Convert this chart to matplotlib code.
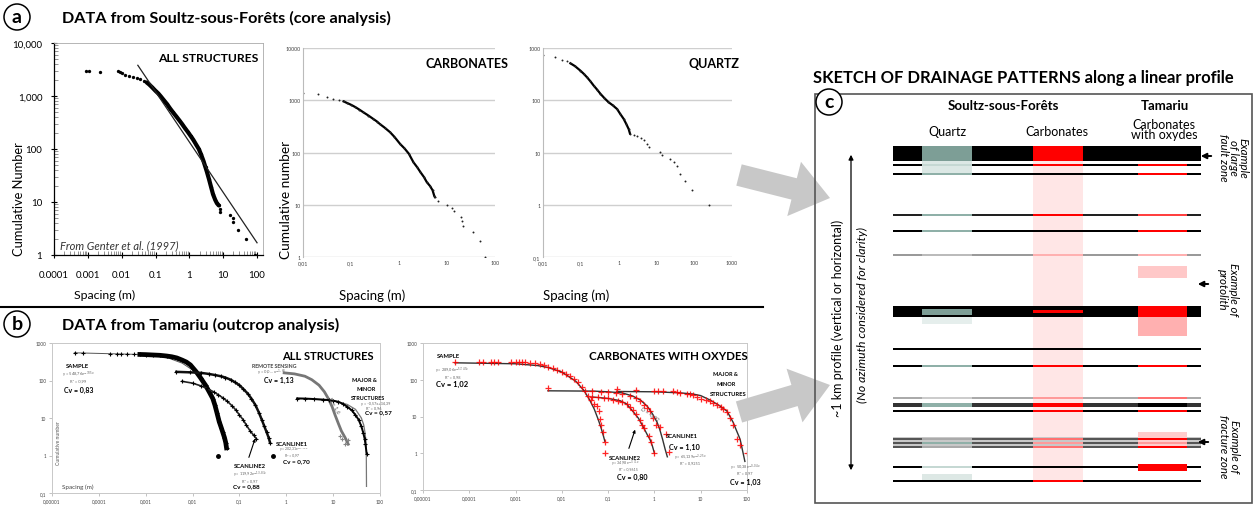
import matplotlib
matplotlib.use('Agg')
import matplotlib.pyplot as plt
from matplotlib.patches import Circle, Rectangle, Polygon
import numpy as np

plt.rcParams['font.family'] = ['Lato', 'DejaVu Sans']

# ---------------- DATA : panel a (Soultz-sous-Forets) ----------------
a1_x = [0.0009, 0.0011, 0.0023, 0.008, 0.009, 0.0105, 0.0126, 0.016, 0.022, 0.028, 0.035, 0.045,
        0.055, 0.065, 0.08, 0.1, 0.12, 0.14, 0.18, 0.22, 0.27, 0.33, 0.4, 0.5, 0.6, 0.75, 0.9,
        1.1, 1.3, 1.6, 1.9, 2.2, 2.6, 3.0, 3.3, 3.8, 4.4, 5.0, 5.8, 6.5, 7.4,
        8.0, 8.3, 16, 19, 19.5, 27, 48, 90]
a1_y = [3000, 2900, 2800, 2900, 2800, 2700, 2500, 2400, 2300, 2200, 2100, 1950,
        1800, 1650, 1450, 1250, 1120, 1000, 820, 700, 580, 490, 420, 350, 300, 245, 210,
        175, 150, 120, 100, 80, 60, 45, 37, 27, 19, 14, 11, 9.5, 8.6,
        7.5, 6.5, 5.8, 4.9, 4.2, 3.0, 2.0, 1.0]
a1_fit_x = [0.03, 100]
a1_fit_y = [3800, 1.7]
a1_xticklabels = ['0.0001', '0.001', '0.01', '0.1', '1', '10', '100']
a1_yticklabels = ['1', '10', '100', '1,000', '10,000']

a2_x = [0.01, 0.021, 0.032, 0.043, 0.055, 0.07, 0.082, 0.1, 0.123, 0.15, 0.18, 0.23, 0.29, 0.35,
        0.4, 0.5, 0.65, 0.8, 1.06, 1.3, 1.6, 2.0, 2.4, 2.8, 3.3, 3.8, 4.4, 5.0, 5.4, 5.6, 6.6,
        10, 12.5, 13.7, 20, 21, 21.6, 35, 49, 62]
a2_y = [1360, 1290, 1150, 1060, 1020, 950, 890, 820, 740, 660, 590, 510, 440, 390,
        350, 300, 245, 200, 145, 120, 95, 65, 52, 42, 34, 27, 23, 19, 15, 14, 12,
        10, 8.7, 7.5, 5.8, 4.9, 4.0, 3.0, 2.0, 1.0]
a2_xticklabels = ['0,01', '0,1', '1', '10', '100']
a2_yticklabels = ['1', '10', '100', '1000', '10000']

a3_x = [0.01, 0.021, 0.032, 0.042, 0.053, 0.07, 0.097, 0.12, 0.146, 0.18, 0.22, 0.27, 0.33, 0.42,
        0.54, 0.7, 0.91, 1.1, 1.36, 1.6, 1.85, 2.0, 2.6, 3.1, 3.8, 4.6, 5.6, 6.2, 12.6, 13.9,
        23, 28.5, 35, 43, 58, 87, 245]
a3_y = [735, 660, 600, 560, 510, 450, 370, 320, 275, 230, 190, 160, 133, 110,
        92, 80, 68, 55, 44, 35, 28, 23, 22, 21, 19, 17.5, 14.6, 12.7, 10.2, 9.1,
        7.6, 6.5, 5.5, 3.9, 2.9, 1.9, 0.97]
a3_xticklabels = ['0,01', '0,1', '1', '10', '100', '1000']
a3_yticklabels = ['0,1', '1', '10', '100', '1000']

# ---------------- DATA : panel b (Tamariu) ----------------
b_xticklabels = ['0,00001', '0,0001', '0,001', '0,01', '0,1', '1', '10', '100']
b_yticklabels = ['0,1', '1', '10', '100', '1000']

# all structures
b1_sample_x = [3.1e-5, 4.6e-5, 1.7e-4, 2.4e-4, 2.9e-4, 4e-4, 5.5e-4, 7.5e-4, 1e-3, 1.4e-3, 2e-3,
               2.8e-3, 3.6e-3, 4.6e-3, 6e-3, 7.4e-3, 9e-3, 0.012, 0.015, 0.019, 0.023, 0.027,
               0.03, 0.033, 0.037, 0.041, 0.044, 0.048, 0.051, 0.053]
b1_sample_y = [540, 540, 520, 515, 510, 505, 500, 495, 490, 480, 470, 450, 430, 400, 350, 310,
               260, 170, 115, 74, 48, 33, 22, 14, 8, 5.5, 4.2, 3.0, 2.2, 1.6]
b1_sample_last = (0.035, 1.0)
b1_sample_fit_x = [3e-5, 1e-3, 3e-3, 6e-3, 1e-2, 1.5e-2, 2e-2, 2.5e-2, 3e-2, 4e-2, 5e-2, 5.5e-2]
b1_sample_fit_y = [548, 490, 400, 290, 190, 110, 67, 40, 23, 8, 3, 1.7]

b1_scan1_x = [0.0045, 0.009, 0.015, 0.022, 0.03, 0.04, 0.05, 0.065, 0.08, 0.1, 0.12, 0.15, 0.18,
              0.22, 0.26, 0.3, 0.34, 0.38, 0.42, 0.45]
b1_scan1_y = [170, 165, 160, 150, 140, 130, 120, 105, 90, 75, 60, 45, 33, 22, 14, 9, 6, 4.2, 3, 2.2]
b1_scan1_last = (0.51, 1.0)

b1_scan2_x = [0.006, 0.01, 0.015, 0.02, 0.028, 0.035, 0.045, 0.055, 0.07, 0.085, 0.1, 0.12, 0.14,
              0.17, 0.2, 0.23]
b1_scan2_y = [95, 85, 72, 62, 50, 42, 34, 28, 21, 16, 12, 9, 6.5, 4.5, 3.5, 2.8]

b1_remote_x = [0.9, 1.5, 2.5, 3.5, 5, 6.5, 8, 9.5, 11, 13, 15, 18, 21]
b1_remote_y = [160, 150, 130, 105, 75, 50, 32, 20, 12, 7, 4.5, 3.0, 2.0]
b1_remote_pts_x = [13.8, 15.6, 17.7, 21]
b1_remote_pts_y = [3.3, 2.8, 2.0, 2.6]

b1_major_x = [1.7, 2.5, 4, 6, 8, 10, 13, 16, 20, 25, 30, 35, 40, 44, 47, 49, 52]
b1_major_y = [33, 33, 32, 31, 30, 29, 27, 24, 20, 16, 12, 9, 6, 4, 2.8, 2.0, 1.1]
b1_major_fit_x = [1.7, 10, 20, 30, 40, 45, 48, 50, 51, 51.5]
b1_major_fit_y = [34, 29, 23, 17, 10, 6.5, 4, 2.5, 1.2, 0.15]

# carbonates with oxydes
b2_sample_x = [4.9e-5, 1.6e-4, 2.0e-4, 3.0e-4, 3.4e-4, 4.2e-4, 8e-4, 1.0e-3, 1.2e-3, 1.4e-3, 1.6e-3,
               2e-3, 2.6e-3, 3.3e-3, 4.2e-3, 5e-3, 6.5e-3, 8e-3, 1e-2, 1.2e-2, 1.5e-2, 1.8e-2,
               2.2e-2, 2.7e-2, 3.2e-2, 3.7e-2, 4.3e-2, 5e-2, 5.7e-2, 6.2e-2, 6.6e-2, 7.1e-2,
               7.7e-2, 8.5e-2, 8.5e-2]
b2_sample_y = [304, 300, 300, 300, 300, 298, 300, 300, 298, 296, 295, 290, 280, 265, 245, 222,
               205, 185, 162, 145, 125, 105, 87, 65, 50, 36, 28, 22, 19, 14, 8.6, 6, 3.8, 2.0, 1.0]
b2_sample_fit_x = [4.9e-5, 1e-3, 3e-3, 5e-3, 0.01, 0.02, 0.03, 0.04, 0.05, 0.06, 0.07, 0.08, 0.085]
b2_sample_fit_y = [289, 272, 243, 216, 162, 91, 51, 28, 16, 8.8, 5, 2.8, 2.1]

b2_scan1_x = [0.005, 0.045, 0.07, 0.1, 0.15, 0.2, 0.3, 0.4, 0.5, 0.6, 0.7, 0.8, 0.94, 1.1, 1.3,
              1.8, 2.1]
b2_scan1_y = [60, 48, 47, 46, 44, 42, 37, 32, 26, 21, 17, 14, 9, 6, 5.2, 3.4, 1.1]
b2_scan1_fit_x = [0.005, 0.05, 0.1, 0.2, 0.34, 0.5, 0.7, 0.9, 1.14, 1.3, 1.5, 1.7, 1.9]
b2_scan1_fit_y = [50, 49, 47, 44, 36, 28, 19, 12, 7, 4.5, 2.4, 1.3, 0.8]

b2_scan2_x = [0.045, 0.06, 0.08, 0.1, 0.13, 0.16, 0.2, 0.25, 0.3, 0.35, 0.4, 0.5, 0.55, 0.6,
              0.75, 0.85, 1.0]
b2_scan2_y = [34, 33, 32, 31, 29, 27, 25, 22, 18, 15, 12, 8, 6, 5, 3, 2, 1]
b2_scan2_fit_x = [0.045, 0.1, 0.18, 0.25, 0.34, 0.45, 0.56, 0.7, 0.8, 0.9, 1.0]
b2_scan2_fit_y = [34, 31, 27, 22, 14, 9, 5.5, 3.2, 2.4, 1.6, 1.0]

b2_major_x = [0.155, 0.4, 1.0, 1.2, 1.5, 2.5, 3.0, 3.6, 5, 6, 6.7, 8.4, 10, 13, 16, 18, 22, 27,
              30, 37, 44, 50, 60, 71, 100]
b2_major_y = [56, 52, 50, 50, 49, 48, 46, 44, 42, 40, 38, 33, 30, 28, 26, 23, 21, 18, 16, 13, 9,
              6, 2.5, 1.7, 1.0]
b2_major_fit_x = [0.155, 1, 3.6, 6.7, 10, 16, 25, 37, 50, 60, 71, 80, 90]
b2_major_fit_y = [48, 47, 44, 41, 37, 28, 20, 14, 7, 4, 2.4, 1.2, 0.6]

# ---------------- DATA : panel c (sketch rows along the profile) ----------------
sk_row_pos = [154.5, 166, 175, 216, 232, 256, 312.5, 350, 367, 399, 405.5, 412, 440, 444, 448, 468, 482]
sk_row_thk = [15, 2.5, 2.5, 2, 2.5, 1.5, 11, 2.5, 2, 2, 4, 2, 1.2, 1.2, 1.2, 1.5, 2.5]
sk_base = ['k', 'k', 'k', '#222222', 'k', '#9a9a9a', 'k', 'k', 'k', '#aaaaaa', '#333333', 'k',
           '#555555', '#555555', '#555555', 'k', 'k']
sk_quartz = ['#7d9e96', '#c5d8d3', '#8fb0a8', '#8fb0a8', '#8fb0a8', '#bbbbbb', 'k', 'k', '#8fb0a8',
             '#cccccc', '#8fb0a8', 'k', '#aaaaaa', '#8fb0a8', '#aaaaaa', '#c5d8d3', 'k']
sk_carb = ['red', 'red', 'k', 'red', 'k', '#ffb0b0', 'k', 'k', 'red', '#ff9a9a', 'red', 'red',
           '#ff7070', '#ff9a9a', '#ff7070', 'k', 'red']
sk_tam = ['k', 'red', 'red', '#ff4040', 'red', '#ffb0b0', 'red', 'k', 'red', '#ff7070', 'k', 'red',
          'red', '#ff9a9a', 'red', 'red', 'k']

W, H = 1253, 506
fig = plt.figure(figsize=(W / 100, H / 100), dpi=100)


def add_ax(x0, y0, x1, y1, **kw):
    return fig.add_axes([x0 / W, 1 - y1 / H, (x1 - x0) / W, (y1 - y0) / H], **kw)


def decades(lo, n):
    return [10.0 ** (lo + i) for i in range(n)]


# ================= a1 =================
ax1 = add_ax(54, 44, 263, 256)
ax1.set_xscale('log'); ax1.set_yscale('log')
ax1.set_xlim(1e-4, 150); ax1.set_ylim(1, 1e4)
xa = np.array(a1_x); ya = np.array(a1_y)
m = (xa >= 0.05) & (xa <= 7.5)
ax1.plot(xa[m], ya[m], '-', color='k', lw=3.0, solid_capstyle='round')
ax1.plot(xa, ya, 'o', color='k', ms=2.4, mec='none')
ax1.plot(a1_fit_x, a1_fit_y, '-', color='#222222', lw=0.9)
ax1.set_xticks(decades(-4, 7)); ax1.set_xticklabels(a1_xticklabels)
ax1.set_yticks(decades(0, 5)); ax1.set_yticklabels(a1_yticklabels)
ax1.tick_params(which='major', direction='inout', length=5, labelsize=7, width=0.8)
ax1.tick_params(axis='x', which='major', pad=8)
ax1.tick_params(axis='y', which='major', pad=6)
ax1.tick_params(which='minor', direction='in', length=3, width=0.5, colors='#666666')
for s in ['top', 'right']:
    ax1.spines[s].set_color('#aaaaaa'); ax1.spines[s].set_linewidth(0.6)
for s in ['left', 'bottom']:
    ax1.spines[s].set_linewidth(0.9)
ax1.text(0.98, 0.93, 'ALL STRUCTURES', transform=ax1.transAxes, ha='right', va='center',
         fontsize=8.7, fontweight='bold')
ax1.text(0.03, 0.05, 'From Genter et al. (1997)', transform=ax1.transAxes, ha='left',
         va='center', fontsize=8, style='italic', color='#333333')


# ================= a2 / a3 =================
def grid_axes(ax, xlim, ylim, xt, xl, yt, yl):
    ax.set_xscale('log'); ax.set_yscale('log')
    ax.set_xlim(*xlim); ax.set_ylim(*ylim)
    ax.set_xticks(xt); ax.set_xticklabels(xl)
    ax.set_yticks(yt); ax.set_yticklabels(yl)
    ax.minorticks_off()
    ax.tick_params(length=0, labelsize=3.8, labelcolor='#444444', pad=2)
    ax.yaxis.grid(True, color='#cfcfcf', lw=1.0)
    ax.set_axisbelow(True)
    for s in ['top', 'right', 'bottom']:
        ax.spines[s].set_visible(False)
    ax.spines['left'].set_color('#bbbbbb'); ax.spines['left'].set_linewidth(0.8)


ax2 = add_ax(303, 49, 495, 258)
grid_axes(ax2, (0.01, 100), (1, 1e4), decades(-2, 5), a2_xticklabels, decades(0, 5), a2_yticklabels)
x2 = np.array(a2_x); y2 = np.array(a2_y)
m2 = (x2 >= 0.07) & (x2 <= 5.6)
ax2.plot(x2[m2], y2[m2], '-', color='k', lw=1.6)
ax2.plot(x2, y2, 'o', color='#222222', ms=1.4, mec='none')
ax2.text(1.07, 0.93, 'CARBONATES', transform=ax2.transAxes, ha='right', va='center',
         fontsize=9, fontweight='bold')

ax3 = add_ax(543, 49, 732, 258)
grid_axes(ax3, (0.01, 1000), (0.1, 1000), decades(-2, 6), a3_xticklabels, decades(-1, 5), a3_yticklabels)
x3 = np.array(a3_x); y3 = np.array(a3_y)
m3 = (x3 >= 0.05) & (x3 <= 2.0)
ax3.plot(x3[m3], y3[m3], '-', color='k', lw=1.6)
ax3.plot(x3, y3, 'o', color='#222222', ms=1.4, mec='none')
ax3.text(1.04, 0.93, 'QUARTZ', transform=ax3.transAxes, ha='right', va='center',
         fontsize=9, fontweight='bold')


# ================= b1 / b2 =================
def b_axes(ax):
    ax.set_xscale('log'); ax.set_yscale('log')
    ax.set_xlim(1e-5, 100); ax.set_ylim(0.1, 1000)
    ax.set_xticks(decades(-5, 8)); ax.set_xticklabels(b_xticklabels)
    ax.set_yticks(decades(-1, 5)); ax.set_yticklabels(b_yticklabels)
    ax.minorticks_off()
    ax.tick_params(length=2, width=0.5, color='#aaaaaa', labelsize=3.3, labelcolor='#444444', pad=2)
    for s in ax.spines.values():
        s.set_color('#c8c8c8'); s.set_linewidth(0.7)


bx1 = add_ax(52, 344, 380, 494)
b_axes(bx1)
bx1.plot(b1_sample_fit_x, b1_sample_fit_y, '-', color='#555555', lw=0.7)
xs = np.array(b1_sample_x); ys = np.array(b1_sample_y)
ms_ = xs >= 7.5e-4
bx1.plot(xs[ms_], ys[ms_], '-', color='k', lw=3.4)
bx1.plot(xs, ys, '+', color='k', ms=3.5, mew=0.8)
bx1.plot(*b1_sample_last, 'o', color='k', ms=2.5)
bx1.plot(b1_scan1_x, b1_scan1_y, '-', color='#111111', lw=1.8)
bx1.plot(b1_scan1_x, b1_scan1_y, '+', color='k', ms=3.5, mew=0.8)
bx1.plot(*b1_scan1_last, 'o', color='k', ms=2.5)
bx1.plot(b1_scan2_x, b1_scan2_y, '-', color='#222222', lw=1.2)
bx1.plot(b1_scan2_x, b1_scan2_y, '+', color='k', ms=3.5, mew=0.8)
bx1.plot(b1_remote_x, b1_remote_y, '-', color='#777777', lw=2.0)
bx1.plot(b1_remote_pts_x, b1_remote_pts_y, '+', color='#888888', ms=3.5, mew=0.8)
bx1.plot(b1_major_fit_x, b1_major_fit_y, '-', color='#777777', lw=0.9)
bx1.plot(b1_major_x, b1_major_y, '-', color='k', lw=1.4)
bx1.plot(b1_major_x, b1_major_y, '+', color='k', ms=3.5, mew=0.8)

bx2 = add_ax(423, 344, 747, 491)
b_axes(bx2)
for fx, fy in [(b2_sample_fit_x, b2_sample_fit_y), (b2_scan1_fit_x, b2_scan1_fit_y),
               (b2_scan2_fit_x, b2_scan2_fit_y), (b2_major_fit_x, b2_major_fit_y)]:
    bx2.plot(fx, fy, '-', color='#333333', lw=1.0)
for px, py in [(b2_sample_x, b2_sample_y), (b2_scan1_x, b2_scan1_y),
               (b2_scan2_x, b2_scan2_y), (b2_major_x, b2_major_y)]:
    bx2.plot(px, py, '+', color='red', ms=4, mew=0.9, alpha=0.85)

# ================= overlay (pixel coordinates) =================
ov = add_ax(0, 0, W, H)
ov.set_xlim(0, W); ov.set_ylim(H, 0)
ov.axis('off')
ov.patch.set_visible(False)


def T(x, y, s, **kw):
    kw.setdefault('va', 'center')
    ov.text(x, y, s, **kw)


def circ_label(x, y, s):
    ov.add_patch(Circle((x, y), 13, facecolor='white', edgecolor='k', lw=1.1, zorder=6))
    T(x, y - 1, s, ha='center', fontsize=14, fontweight='bold', zorder=7)


# panel titles
circ_label(17, 18, 'a')
T(62, 18, 'DATA from Soultz-sous-Forêts (core analysis)', fontsize=11.7, fontweight='bold')
circ_label(17, 325, 'b')
T(62, 325, 'DATA from Tamariu (outcrop analysis)', fontsize=11.7, fontweight='bold')
ov.plot([0, 763], [308, 308], color='k', lw=1.5)

# axis labels of panel a
T(19, 199, 'Cumulative Number', rotation=90, ha='center', fontsize=9.3)
T(105, 295, 'Spacing (m)', ha='center', fontsize=8.8)
T(286, 200, 'Cumulative number', rotation=90, ha='center', fontsize=9.8)
T(372, 296, 'Spacing (m)', ha='center', fontsize=9.5)
T(576, 296, 'Spacing (m)', ha='center', fontsize=9.5)

# panel b1 annotations
T(328, 357, 'ALL STRUCTURES', ha='center', fontsize=8, fontweight='bold')
T(66, 367, 'SAMPLE', fontsize=4.2, fontweight='bold')
T(62, 375, 'y = 548,76e$^{-105x}$', fontsize=3, color='#666666')
T(70, 381, 'R² = 0,99', fontsize=3, color='#666666')
T(64, 390, 'Cv = 0,83', fontsize=5, fontweight='bold')
T(274, 366, 'REMOTE SENSING', ha='center', fontsize=3.8, fontweight='bold', color='#444444')
T(272, 373, 'y = 0,0... x$^{-1,60}$', ha='center', fontsize=3, color='#666666')
T(279, 380, 'Cv = 1,13', ha='center', fontsize=5, fontweight='bold')
T(334, 405, 'D = 1,6', ha='center', fontsize=4, color='#555555', rotation=-60)
T(364, 380, 'MAJOR &', ha='center', fontsize=4, fontweight='bold')
T(366, 390, 'MINOR', ha='center', fontsize=4, fontweight='bold')
T(368, 399, 'STRUCTURES', ha='center', fontsize=4, fontweight='bold')
T(376, 404, 'y = -0,57x+34,39', ha='center', fontsize=2.8, color='#666666')
T(374, 408, 'R² = 0,96', ha='center', fontsize=2.8, color='#666666')
T(378, 413, 'Cv = 0,57', ha='center', fontsize=4.6, fontweight='bold')
T(292, 445, 'SCANLINE1', ha='center', fontsize=4.2, fontweight='bold')
T(294, 450, 'y = 202,31e$^{-7,77x}$', ha='center', fontsize=2.5, color='#666666')
T(292, 455.8, 'R² = 0,97', ha='center', fontsize=2.5, color='#666666')
T(296, 461.5, 'Cv = 0,70', ha='center', fontsize=4.6, fontweight='bold')
T(250, 467, 'SCANLINE2', ha='center', fontsize=4.2, fontweight='bold')
T(250, 475, 'y = 119,92e$^{-13,83x}$', ha='center', fontsize=2.8, color='#666666')
T(250, 481, 'R² = 0,97', ha='center', fontsize=2.8, color='#666666')
T(246, 487, 'Cv = 0,88', ha='center', fontsize=4.6, fontweight='bold')
ov.annotate('', xy=(256, 437), xytext=(248, 461),
            arrowprops=dict(arrowstyle='-|>', color='k', lw=0.8, mutation_scale=4))
T(62, 487, 'Spacing (m)', fontsize=4.5, color='#444444')
T(59, 443, 'Cumulative number', rotation=90, ha='center', fontsize=3.6, color='#555555')

# panel b2 annotations
T(668, 356, 'CARBONATES WITH OXYDES', ha='center', fontsize=8.3, fontweight='bold')
T(437, 356, 'SAMPLE', fontsize=4.2, fontweight='bold')
T(435, 371, 'y = 289,06e$^{-57,49x}$', fontsize=2.8, color='#666666')
T(445, 377, 'R² = 0,98', fontsize=2.8, color='#666666')
T(436, 384, 'Cv = 1,02', fontsize=5.5, fontweight='bold')
T(725, 375, 'MAJOR &', ha='center', fontsize=4, fontweight='bold')
T(726, 385, 'MINOR', ha='center', fontsize=4, fontweight='bold')
T(728, 395, 'STRUCTURES', ha='center', fontsize=4.2, fontweight='bold')
T(650, 414, 'D = -0,92', ha='center', fontsize=3.6, color='#555555', rotation=-35)
T(682, 437, 'SCANLINE1', ha='center', fontsize=4.2, fontweight='bold')
T(684, 447, 'Cv = 1,10', ha='center', fontsize=5.2, fontweight='bold')
T(690, 458, 'y = 65,139e$^{-2,25x}$', ha='center', fontsize=2.8, color='#666666')
T(690, 463, 'R² = 0,9251', ha='center', fontsize=2.8, color='#666666')
T(625, 458.5, 'SCANLINE2', ha='center', fontsize=4.2, fontweight='bold')
T(625, 464, 'y = 34,98e$^{-3,71x}$', ha='center', fontsize=2.6, color='#666666')
T(628, 469.8, 'R² = 0,9615', ha='center', fontsize=2.6, color='#666666')
T(632, 477.5, 'Cv = 0,80', ha='center', fontsize=5.2, fontweight='bold')
ov.annotate('', xy=(636, 428), xytext=(628, 452),
            arrowprops=dict(arrowstyle='-|>', color='k', lw=0.8, mutation_scale=4))
T(745, 468, 'y = 50,38e$^{-0,04x}$', ha='center', fontsize=2.8, color='#666666')
T(745, 473, 'R² = 0,97', ha='center', fontsize=2.8, color='#666666')
T(745, 482, 'Cv = 1,03', ha='center', fontsize=5.2, fontweight='bold')


# big gray arrows
def big_arrow(tail, tip, hw_shaft=11, hw_head=28, head_len=37, color='#c8c8c8'):
    t = np.array(tail, float); p = np.array(tip, float)
    u = (p - t) / np.linalg.norm(p - t)
    n = np.array([-u[1], u[0]])
    b = p - u * head_len
    pts = [t + n * hw_shaft, b + n * hw_shaft, b + n * hw_head, p,
           b - n * hw_head, b - n * hw_shaft, t - n * hw_shaft]
    ov.add_patch(Polygon(pts, closed=True, facecolor=color, edgecolor='none', zorder=1))


big_arrow((739, 176), (830, 199))
big_arrow((739, 413), (830, 386))

# ================= panel c =================
T(813, 78, 'SKETCH OF DRAINAGE PATTERNS along a linear profile', fontsize=11.9, fontweight='bold')
ov.add_patch(Rectangle((815, 95), 1252 - 815, 504 - 95, facecolor='none', edgecolor='#555555',
                       lw=1.2, zorder=2))
circ_label(829, 103, 'c')

XL, XR = 893, 1201
QC = (922, 972); CC = (1033, 1083); TC = (1138, 1187)


def rect(x0, x1, y0, y1, c, z=3):
    ov.add_patch(Rectangle((x0, y0), x1 - x0, y1 - y0, facecolor=c, edgecolor='none', zorder=z))


# background bands
rect(CC[0], CC[1], 160, 483, '#ffe6e6', z=2)
rect(QC[0], QC[1], 162, 176, '#dce8e5', z=2)
rect(TC[0], TC[1], 267, 279, '#ffc8c8', z=2)
rect(TC[0], TC[1], 318, 337, '#ffb0b0', z=2)
rect(QC[0], QC[1], 318, 325, '#e5eeec', z=2)
rect(XL, XR, 438, 449, '#c8c8c8', z=2)
rect(TC[0], TC[1], 433, 449, '#ffcccc', z=2.5)
rect(QC[0], QC[1], 475, 482, '#dde8e5', z=2)

for yp, th, cb, cq, cc, ct in zip(sk_row_pos, sk_row_thk, sk_base, sk_quartz, sk_carb, sk_tam):
    rect(XL, XR, yp - th / 2, yp + th / 2, cb)
    rect(QC[0], QC[1], yp - th / 2, yp + th / 2, cq, z=3.1)
    rect(CC[0], CC[1], yp - th / 2, yp + th / 2, cc, z=3.1)
    rect(TC[0], TC[1], yp - th / 2, yp + th / 2, ct, z=3.1)

rect(QC[0], QC[1], 310, 315.5, '#7d9e96', z=3.2)
rect(CC[0], CC[1], 311, 313.5, 'red', z=3.2)
rect(TC[0], TC[1], 465, 472, 'red', z=3.2)

T(1003, 106, 'Soultz-sous-Forêts', ha='center', fontsize=9.5, fontweight='bold')
T(1165, 106, 'Tamariu', ha='center', fontsize=9.5, fontweight='bold')
T(947, 132, 'Quartz', ha='center', fontsize=9)
T(1057, 132, 'Carbonates', ha='center', fontsize=9)
T(1164, 130, 'Carbonates\nwith oxydes', ha='center', fontsize=9, linespacing=0.85)

ov.annotate('', xy=(851, 153), xytext=(851, 474),
            arrowprops=dict(arrowstyle='<|-|>', color='k', lw=0.9, mutation_scale=7))
T(838, 318, '~1 km profile (vertical or horizontal)', rotation=90, ha='center', fontsize=9)
T(862, 315, '(No azimuth considered for clarity)', rotation=90, ha='center', fontsize=8.8,
  style='italic')

for ya_, x0_ in [(157, 1214), (285, 1211), (443, 1211)]:
    ov.annotate('', xy=(x0_ - 16, ya_), xytext=(x0_, ya_),
                arrowprops=dict(arrowstyle='-|>', color='k', lw=1.4, mutation_scale=8))
T(1233, 158, 'Example\nof large\nfault zone', rotation=-90, ha='center', fontsize=8.3,
  style='italic', linespacing=0.85)
T(1228, 290, 'Example of\nprotolith', rotation=-90, ha='center', fontsize=8.3,
  style='italic', linespacing=0.95)
T(1229, 447, 'Example of\nfracture zone', rotation=-90, ha='center', fontsize=8.3,
  style='italic', linespacing=0.95)

fig.savefig('out.png', dpi=100)
